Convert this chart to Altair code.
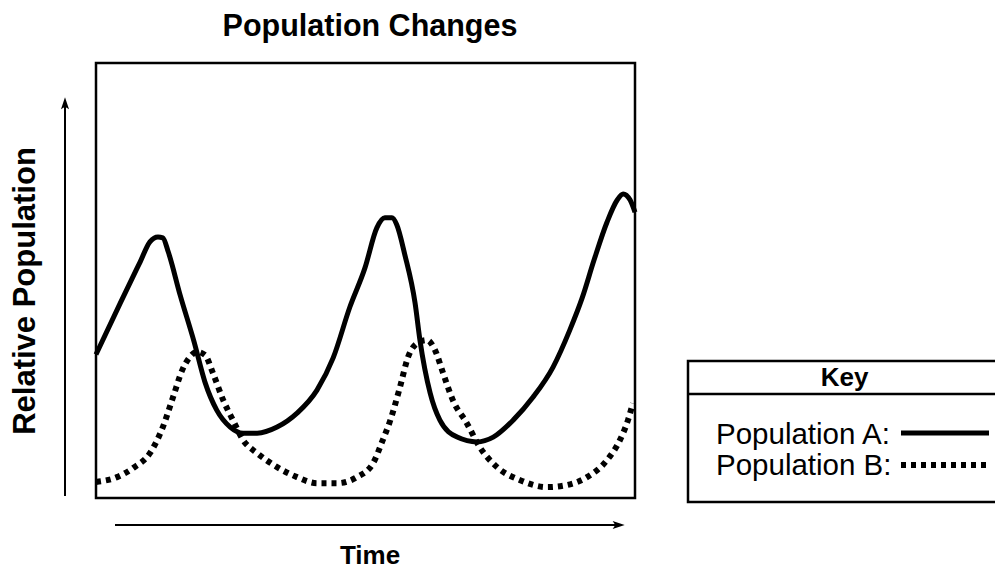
import altair as alt
import pandas as pd

# Population A (solid line)
time_a = [0, 4.5, 8.2, 10.0, 11.5, 12.4, 13.4, 15.6, 18.2, 20.2, 22.4, 24.9, 27.3, 29.9,
          33.6, 37.3, 41.0, 44.0, 47.1, 49.9, 52.1, 53.6, 54.9, 55.8, 57.3, 59.2, 60.1,
          62.0, 63.8, 67.0, 70.7, 73.7, 77.4, 81.1, 84.8, 87.9, 90.2, 92.4, 94.8, 96.7,
          97.8, 99.1, 100]
pop_a = [33.0, 44.8, 54.3, 58.9, 60.0, 59.8, 56.6, 46.7, 35.9, 26.7, 20.2, 16.3, 14.9, 14.9,
         16.3, 19.5, 24.8, 32.2, 43.9, 52.9, 62.1, 64.4, 64.4, 62.8, 55.9, 44.8, 36.3,
         24.1, 17.9, 14.0, 12.9, 14.0, 17.9, 23.2, 30.1, 38.6, 46.0, 54.7, 63.4, 68.5,
         69.9, 68.5, 65.7]

# Population B (dotted line)
time_b = [0, 3.9, 6.9, 10.0, 12.4, 14.3, 16.0, 17.4, 18.7, 20.2, 21.7, 23.6, 25.4, 27.3,
          29.9, 33.6, 37.3, 41.0, 44.7, 48.4, 51.4, 53.2, 54.5, 56.4, 57.9, 59.6, 61.4,
          62.9, 64.4, 66.2, 68.8, 71.2, 74.4, 78.7, 83.7, 87.4, 91.1, 94.8, 97.2, 98.7, 99.6]
pop_b = [3.7, 4.8, 6.9, 10.3, 16.3, 23.2, 29.4, 32.4, 33.6, 32.9, 28.7, 22.5, 17.9, 13.3,
         10.3, 7.1, 4.8, 3.4, 3.4, 4.8, 8.0, 13.3, 17.5, 25.5, 32.4, 35.6, 36.3,
         34.0, 28.7, 22.5, 17.2, 11.7, 7.1, 4.1, 2.5, 3.0, 4.8, 8.7, 13.3, 17.9, 21.8]

title_text = "Population Changes"
y_label = "Relative Population"
x_label = "Time"
key_title = "Key"
key_labels = ["Population A:", "Population B:"]

FONT = "Liberation Sans"
W, H = 539, 435

df_a = pd.DataFrame({"time": time_a, "pop": pop_a})
df_b = pd.DataFrame({"time": time_b, "pop": pop_b})
one = pd.DataFrame({"k": [0]})

xs = alt.Scale(domain=[0, 100], nice=False, zero=False)
ys = alt.Scale(domain=[0, 100], nice=False, zero=False)

line_b = alt.Chart(df_b).mark_line(
    color="black", strokeWidth=6, strokeDash=[5, 5], interpolate="monotone"
).encode(
    x=alt.X("time:Q", scale=xs, axis=None),
    y=alt.Y("pop:Q", scale=ys, axis=None),
)
line_a = alt.Chart(df_a).mark_line(
    color="black", strokeWidth=5, interpolate="monotone"
).encode(
    x=alt.X("time:Q", scale=xs, axis=None),
    y=alt.Y("pop:Q", scale=ys, axis=None),
)


def txt(t, x, y, size, weight="normal", align="center", angle=0):
    kw = dict(text=t, font=FONT, fontSize=size, fontWeight=weight, align=align,
              baseline="middle", color="black")
    if angle:
        kw["angle"] = angle
    return alt.Chart(one).mark_text(**kw).encode(x=alt.value(x), y=alt.value(y))


def rule(x, x2, y, y2, width=2, dash=None):
    kw = dict(color="black", strokeWidth=width)
    if dash:
        kw["strokeDash"] = dash
    return alt.Chart(one).mark_rule(**kw).encode(
        x=alt.value(x), x2=alt.value(x2), y=alt.value(y), y2=alt.value(y2))


ARROW = "M0,-1L0.6,0.8L0,0.4L-0.6,0.8Z"


def head(x, y, angle=0):
    kw = dict(shape=ARROW, filled=True, color="black", opacity=1, size=180, strokeWidth=0)
    if angle:
        kw["angle"] = angle
    return alt.Chart(one).mark_point(**kw).encode(x=alt.value(x), y=alt.value(y))


decor = [
    txt(title_text, 274, -36, 30.5, "bold"),
    txt(y_label, -70, 228, 31, "bold", angle=270),
    txt(x_label, 274, 493, 26, "bold"),
    # vertical arrow
    rule(-31, -31, 433, 40),
    head(-31, 41),
    # horizontal arrow
    rule(19, 523, 462, 462),
    head(522, 462, angle=90),
    # key box
    alt.Chart(one).mark_rect(fillOpacity=0, stroke="black", strokeWidth=2.5).encode(
        x=alt.value(592), x2=alt.value(912), y=alt.value(298), y2=alt.value(439)),
    rule(592, 912, 331, 331, width=2.5),
    txt(key_title, 748.5, 315, 26, "bold"),
    txt(key_labels[0], 620, 372, 29.5, align="left"),
    txt(key_labels[1], 620, 403, 29.5, align="left"),
    rule(805, 893, 370, 370, width=5),
    rule(805, 893, 402, 402, width=6, dash=[5, 5]),
]

chart = alt.layer(line_b, line_a, *decor).properties(
    width=W, height=H,
    padding={"left": 88, "top": 55, "right": 360, "bottom": 71},
    autosize=alt.AutoSizeParams(type="none"),
).configure_view(stroke="black", strokeWidth=2.5)

chart.save("out.html", embed_options={"renderer": "svg", "actions": False})
